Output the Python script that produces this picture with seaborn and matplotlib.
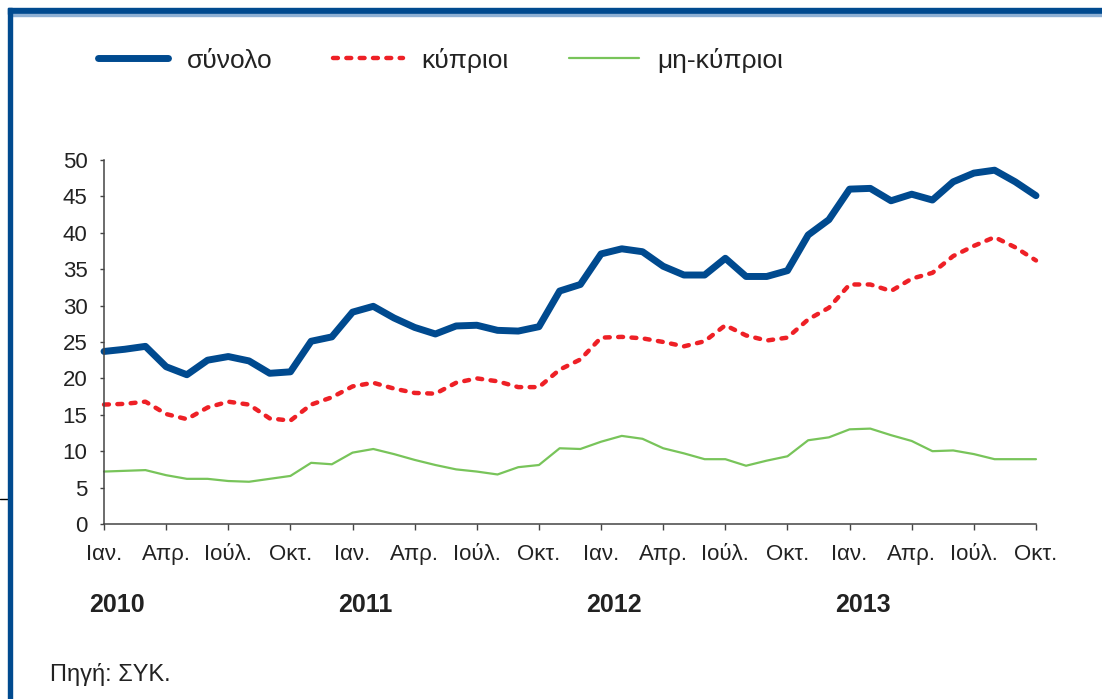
import numpy as np
import pandas as pd
import matplotlib
matplotlib.use("Agg")
import matplotlib.pyplot as plt
from matplotlib.patches import Rectangle
from matplotlib.lines import Line2D
import seaborn as sns

# --- data: monthly, Jan 2010 .. Oct 2013 ---
total = [23.7, 24.0, 24.4, 21.6, 20.5, 22.5, 23.0, 22.4, 20.7, 20.9, 25.1, 25.7,
         29.1, 29.9, 28.3, 27.0, 26.1, 27.2, 27.3, 26.6, 26.5, 27.1, 32.0, 32.9,
         37.1, 37.8, 37.4, 35.4, 34.2, 34.2, 36.5, 34.0, 34.0, 34.8, 39.7, 41.8,
         46.0, 46.1, 44.4, 45.3, 44.5, 47.0, 48.2, 48.6, 47.0, 45.1]
cypriots = [16.4, 16.5, 16.8, 15.1, 14.4, 16.0, 16.8, 16.4, 14.5, 14.2, 16.4, 17.4,
            18.9, 19.4, 18.6, 18.0, 17.9, 19.4, 20.0, 19.6, 18.8, 18.8, 21.2, 22.6,
            25.6, 25.7, 25.5, 25.0, 24.4, 25.1, 27.3, 25.9, 25.2, 25.6, 28.1, 29.7,
            32.9, 32.9, 32.0, 33.7, 34.5, 36.8, 38.2, 39.4, 38.0, 36.2]
non_cypriots = [7.2, 7.3, 7.4, 6.7, 6.2, 6.2, 5.9, 5.8, 6.2, 6.6, 8.4, 8.2,
                9.8, 10.3, 9.6, 8.8, 8.1, 7.5, 7.2, 6.8, 7.8, 8.1, 10.4, 10.3,
                11.3, 12.1, 11.7, 10.4, 9.7, 8.9, 8.9, 8.0, 8.7, 9.3, 11.5, 11.9,
                13.0, 13.1, 12.2, 11.4, 10.0, 10.1, 9.6, 8.9, 8.9, 8.9]
series_names = ["σύνολο", "κύπριοι", "μη-κύπριοι"]
month_labels = ["Ιαν.", "Απρ.", "Ιούλ.", "Οκτ."]
years = ["2010", "2011", "2012", "2013"]
source_text = "Πηγή: ΣΥΚ."

df = pd.DataFrame({"month": np.arange(len(total)),
                   series_names[0]: total,
                   series_names[1]: cypriots,
                   series_names[2]: non_cypriots})

sns.set_style("white")
plt.rcParams["font.family"] = ["Liberation Sans", "DejaVu Sans"]

fig = plt.figure(figsize=(11.02, 6.99), dpi=100)
ax = fig.add_axes([0.0944, 0.2504, 0.8457, 0.5207])

sns.lineplot(data=df, x="month", y=series_names[0], ax=ax, color="#004A8F",
             linewidth=5, label=series_names[0], clip_on=False,
             solid_capstyle="round", solid_joinstyle="round")
sns.lineplot(data=df, x="month", y=series_names[1], ax=ax, color="#EE2026",
             linewidth=3.2, linestyle=(0, (1.1, 1.9)), dash_capstyle="round",
             label=series_names[1], clip_on=False)
sns.lineplot(data=df, x="month", y=series_names[2], ax=ax, color="#78C45A",
             linewidth=1.6, label=series_names[2], clip_on=False)

ax.set_xlim(0, len(total) - 1)
ax.set_ylim(0, 50)
ax.set_yticks(np.arange(0, 51, 5))
xt = np.arange(0, len(total), 3)
ax.set_xticks(xt)
ax.set_xticklabels([month_labels[k % 4] for k in range(len(xt))])
ax.set_xlabel("")
ax.set_ylabel("")
ax.tick_params(axis="x", direction="out", length=4.5, width=1, color="#444444",
               pad=10, labelsize=16, labelcolor="#222222", bottom=True)
ax.tick_params(axis="y", direction="out", length=3, width=1, color="#444444",
               pad=9, labelsize=16, labelcolor="#222222", left=True)
for s in ["top", "right"]:
    ax.spines[s].set_visible(False)
for s in ["left", "bottom"]:
    ax.spines[s].set_color("#444444")
    ax.spines[s].set_linewidth(1.1)

# year labels under January ticks
for k, yr in enumerate(years):
    ax.text(12 * k + 0.63, -0.222, yr, transform=ax.get_xaxis_transform(),
            ha="center", va="center", fontsize=18, fontweight="bold",
            color="#222222")

# legend across the top
handles, labels = ax.get_legend_handles_labels()
ax.get_legend().remove()
fig.legend(handles, labels, loc="center left", bbox_to_anchor=(0.089, 0.914),
           ncol=3, frameon=False, fontsize=19, handlelength=2.65,
           handletextpad=0.7, columnspacing=2.3, borderpad=0, borderaxespad=0,
           labelcolor="#222222")

fig.text(50 / 1102, 1 - 675 / 699, source_text, fontsize=17, color="#222222",
         ha="left", va="center")

# blue frame (top and left)
fig.patches.append(Rectangle((8 / 1102, 1 - 14 / 699), 1, 6 / 699,
                             transform=fig.transFigure, color="#004A8F", zorder=5))
fig.patches.append(Rectangle((12 / 1102, 1 - 15.5 / 699), 1, 1.5 / 699,
                             transform=fig.transFigure, color="#8EB0D4", zorder=5))
fig.patches.append(Rectangle((8 / 1102, 0), 4 / 1102, 1 - 8 / 699,
                             transform=fig.transFigure, color="#004A8F", zorder=5))
fig.lines.append(Line2D([0, 8 / 1102], [1 - 499 / 699, 1 - 499 / 699],
                        transform=fig.transFigure, color="black", lw=1))

fig.savefig("out.png", dpi=100)
